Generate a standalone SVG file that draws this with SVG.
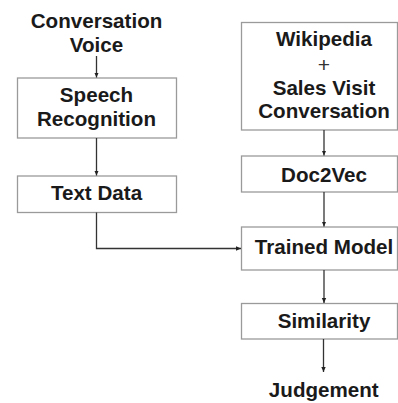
<svg xmlns="http://www.w3.org/2000/svg" width="398" height="403" viewBox="0 0 398 403">
  <defs>
    <marker id="arrow" markerWidth="6" markerHeight="6" refX="5" refY="3" orient="auto" markerUnits="userSpaceOnUse">
      <path d="M0,0.8 L5,3 L0,5.2 Z" fill="#222"/>
    </marker>
    <style>
      .box { fill: #fff; stroke: #9a9a9a; stroke-width: 1.3; }
      .lbl { font-family: "Liberation Sans", Arial, sans-serif; font-weight: bold; font-size: 20.6px; fill: #1a1a1a; text-anchor: middle; }
      .plus { font-family: "Liberation Sans", Arial, sans-serif; font-weight: normal; font-size: 21px; fill: #333; text-anchor: middle; }
      .link { fill: none; stroke: #333; stroke-width: 1.3; marker-end: url(#arrow); }
    </style>
  </defs>
  <rect width="398" height="403" fill="#fff"/>

  <!-- left column -->
  <g id="conversation-voice">
    <text class="lbl" x="96.5" y="28.3">Conversation</text>
    <text class="lbl" x="96.5" y="51.7">Voice</text>
  </g>
  <g id="speech-recognition">
    <rect class="box" x="17.5" y="78" width="159" height="60"/>
    <text class="lbl" x="96.5" y="101.7">Speech</text>
    <text class="lbl" x="96.5" y="126">Recognition</text>
  </g>
  <g id="text-data">
    <rect class="box" x="17.5" y="176" width="159" height="36.5"/>
    <text class="lbl" x="96.5" y="200">Text Data</text>
  </g>

  <!-- right column -->
  <g id="corpus">
    <rect class="box" x="241.5" y="22.5" width="156" height="107.5"/>
    <text class="lbl" x="324" y="45.7">Wikipedia</text>
    <text class="plus" x="324" y="72">+</text>
    <text class="lbl" x="324" y="95">Sales Visit</text>
    <text class="lbl" x="324" y="118.3">Conversation</text>
  </g>
  <g id="doc2vec">
    <rect class="box" x="241.5" y="156" width="156" height="36"/>
    <text class="lbl" x="324" y="181.7">Doc2Vec</text>
  </g>
  <g id="trained-model">
    <rect class="box" x="241.5" y="227" width="156" height="43"/>
    <text class="lbl" x="324" y="254">Trained Model</text>
  </g>
  <g id="similarity">
    <rect class="box" x="241.5" y="303.5" width="156" height="35.5"/>
    <text class="lbl" x="324" y="328.3">Similarity</text>
  </g>
  <g id="judgement">
    <text class="lbl" x="323.8" y="396.7">Judgement</text>
  </g>

  <!-- connectors -->
  <g id="connectors">
    <path class="link" d="M96.5,56 V77.5"/>
    <path class="link" d="M96.5,138 V175.5"/>
    <path class="link" d="M96.5,212.5 V248.5 H241"/>
    <path class="link" d="M324,130 V155.5"/>
    <path class="link" d="M324,192 V226.5"/>
    <path class="link" d="M324,270 V303"/>
    <path class="link" d="M323.5,339 V372"/>
  </g>
</svg>
